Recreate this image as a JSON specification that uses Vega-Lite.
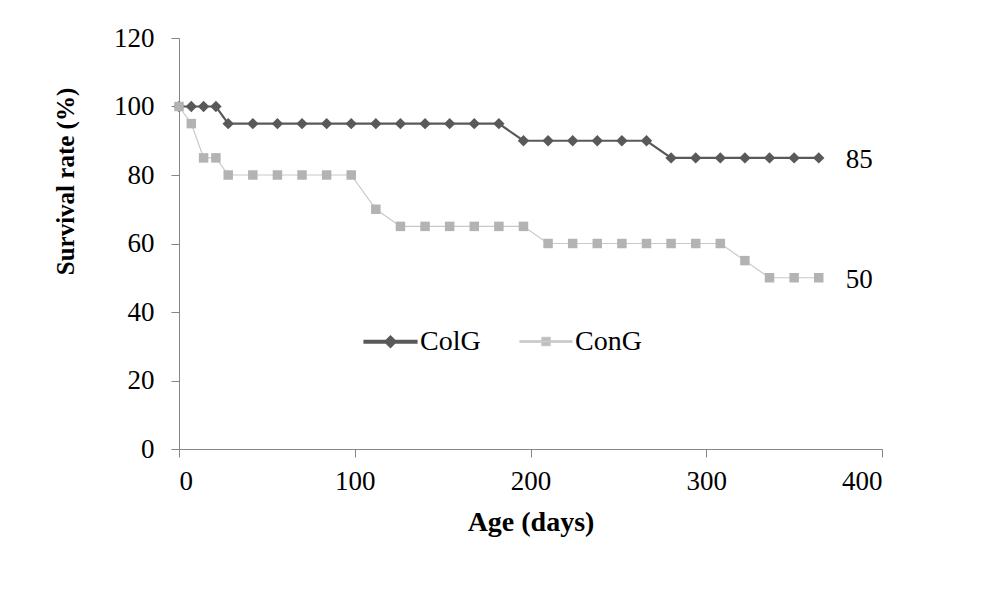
{
  "$schema": "https://vega.github.io/schema/vega-lite/v6.json",
  "width": 703,
  "height": 411,
  "autosize": "none",
  "padding": {"left": 179, "top": 38, "right": 107, "bottom": 148},
  "background": "white",
  "config": {
    "view": {"stroke": null},
    "font": "Liberation Serif",
    "legend": {"padding": 0},
    "axis": {
      "labelFont": "Liberation Serif",
      "labelFontSize": 27,
      "labelColor": "black",
      "titleFont": "Liberation Serif",
      "titleFontWeight": "bold",
      "titleColor": "black",
      "domainColor": "#868686",
      "tickColor": "#868686",
      "tickSize": 8,
      "grid": false
    }
  },
  "data": {
    "values": [
      {"day": 0, "group": "ColG", "rate": 100},
      {"day": 7, "group": "ColG", "rate": 100},
      {"day": 14, "group": "ColG", "rate": 100},
      {"day": 21, "group": "ColG", "rate": 100},
      {"day": 28, "group": "ColG", "rate": 95},
      {"day": 42, "group": "ColG", "rate": 95},
      {"day": 56, "group": "ColG", "rate": 95},
      {"day": 70, "group": "ColG", "rate": 95},
      {"day": 84, "group": "ColG", "rate": 95},
      {"day": 98, "group": "ColG", "rate": 95},
      {"day": 112, "group": "ColG", "rate": 95},
      {"day": 126, "group": "ColG", "rate": 95},
      {"day": 140, "group": "ColG", "rate": 95},
      {"day": 154, "group": "ColG", "rate": 95},
      {"day": 168, "group": "ColG", "rate": 95},
      {"day": 182, "group": "ColG", "rate": 95},
      {"day": 196, "group": "ColG", "rate": 90},
      {"day": 210, "group": "ColG", "rate": 90},
      {"day": 224, "group": "ColG", "rate": 90},
      {"day": 238, "group": "ColG", "rate": 90},
      {"day": 252, "group": "ColG", "rate": 90},
      {"day": 266, "group": "ColG", "rate": 90},
      {"day": 280, "group": "ColG", "rate": 85},
      {"day": 294, "group": "ColG", "rate": 85},
      {"day": 308, "group": "ColG", "rate": 85},
      {"day": 322, "group": "ColG", "rate": 85},
      {"day": 336, "group": "ColG", "rate": 85},
      {"day": 350, "group": "ColG", "rate": 85},
      {"day": 364, "group": "ColG", "rate": 85},
      {"day": 0, "group": "ConG", "rate": 100},
      {"day": 7, "group": "ConG", "rate": 95},
      {"day": 14, "group": "ConG", "rate": 85},
      {"day": 21, "group": "ConG", "rate": 85},
      {"day": 28, "group": "ConG", "rate": 80},
      {"day": 42, "group": "ConG", "rate": 80},
      {"day": 56, "group": "ConG", "rate": 80},
      {"day": 70, "group": "ConG", "rate": 80},
      {"day": 84, "group": "ConG", "rate": 80},
      {"day": 98, "group": "ConG", "rate": 80},
      {"day": 112, "group": "ConG", "rate": 70},
      {"day": 126, "group": "ConG", "rate": 65},
      {"day": 140, "group": "ConG", "rate": 65},
      {"day": 154, "group": "ConG", "rate": 65},
      {"day": 168, "group": "ConG", "rate": 65},
      {"day": 182, "group": "ConG", "rate": 65},
      {"day": 196, "group": "ConG", "rate": 65},
      {"day": 210, "group": "ConG", "rate": 60},
      {"day": 224, "group": "ConG", "rate": 60},
      {"day": 238, "group": "ConG", "rate": 60},
      {"day": 252, "group": "ConG", "rate": 60},
      {"day": 266, "group": "ConG", "rate": 60},
      {"day": 280, "group": "ConG", "rate": 60},
      {"day": 294, "group": "ConG", "rate": 60},
      {"day": 308, "group": "ConG", "rate": 60},
      {"day": 322, "group": "ConG", "rate": 55},
      {"day": 336, "group": "ConG", "rate": 50},
      {"day": 350, "group": "ConG", "rate": 50},
      {"day": 364, "group": "ConG", "rate": 50}
    ]
  },
  "encoding": {
    "x": {
      "field": "day",
      "type": "quantitative",
      "scale": {"domain": [0, 400], "nice": false},
      "axis": {"title": "Age (days)", "values": [0, 100, 200, 300, 400], "labelPadding": 11, "titlePadding": 14, "titleFontSize": 28}
    },
    "y": {
      "field": "rate",
      "type": "quantitative",
      "scale": {"domain": [0, 120], "nice": false},
      "axis": {"title": "Survival rate (%)", "values": [0, 20, 40, 60, 80, 100, 120], "labelPadding": 17, "titlePadding": 35, "titleFontSize": 25, "titleY": 143, "titleAlign": "center"}
    }
  },
  "layer": [
    {
      "mark": {"type": "line"},
      "encoding": {
        "color": {
          "field": "group",
          "type": "nominal",
          "scale": {"domain": ["ColG", "ConG"], "range": ["#595959", "#c8c8c8"]},
          "legend": {
            "orient": "none",
            "legendX": 184,
            "legendY": 276,
            "direction": "horizontal",
            "title": null,
            "labelFont": "Liberation Serif",
            "labelFontSize": 28,
            "labelColor": "black",
            "labelOffset": 2,
            "symbolSize": 2704,
            "columnPadding": 36,
            "encode": {
              "symbols": {
                "update": {
                  "shape": {"signal": "datum.value === 'ColG' ? 'M-1,-0.035L1,-0.035L1,0.035L-1,0.035ZM0,-0.2L0.2,0L0,0.2L-0.2,0Z' : 'M-1,-0.025L1,-0.025L1,0.025L-1,0.025ZM-0.16,-0.16L0.16,-0.16L0.16,0.16L-0.16,0.16Z'"},
                  "size": {"value": 2704},
                  "fill": {"signal": "datum.value === 'ColG' ? '#595959' : '#bdbdbd'"},
                  "stroke": {"value": "transparent"},
                  "strokeWidth": {"value": 0},
                  "opacity": {"value": 1},
                  "fillOpacity": {"value": 1}
                }
              }
            }
          }
        },
        "strokeWidth": {
          "field": "group",
          "type": "nominal",
          "scale": {"domain": ["ColG", "ConG"], "range": [2.2, 1.2]},
          "legend": null
        }
      }
    },
    {
      "transform": [{"filter": "datum.group === 'ColG'"}],
      "mark": {"type": "point", "filled": true, "opacity": 1, "shape": "diamond", "size": 130, "fill": "#595959"}
    },
    {
      "transform": [{"filter": "datum.group === 'ConG'"}],
      "mark": {"type": "point", "filled": true, "opacity": 1, "shape": "square", "size": 90, "fill": "#b3b3b3"}
    },
    {
      "transform": [{"filter": "datum.day === 364"}],
      "mark": {"type": "text", "align": "left", "baseline": "middle", "dx": 27, "dy": 2, "fontSize": 27, "font": "Liberation Serif", "color": "black"},
      "encoding": {
        "text": {"field": "rate", "type": "quantitative"}
      }
    }
  ]
}
